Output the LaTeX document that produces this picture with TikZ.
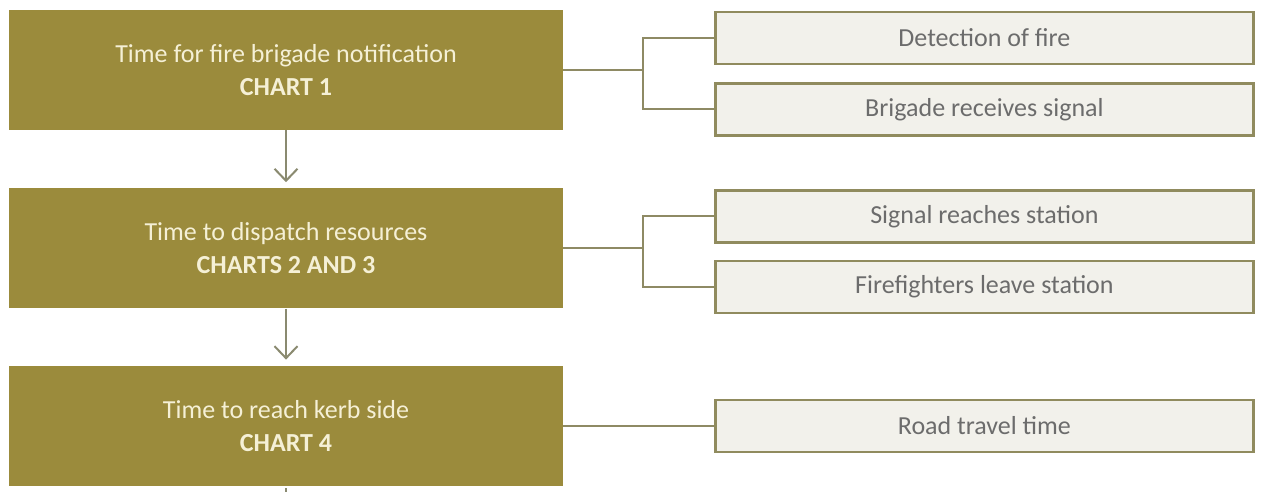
\documentclass[tikz,border=0pt]{standalone}
\usepackage{fontspec}
\setmainfont{Carlito}
\usepackage{tikz}
\usetikzlibrary{positioning,arrows.meta}
\definecolor{stageolive}{RGB}{155,139,60}
\definecolor{stagetext}{RGB}{245,240,214}
\definecolor{partfill}{RGB}{242,241,235}
\definecolor{partedge}{RGB}{144,139,94}
\definecolor{parttext}{RGB}{108,108,108}
\definecolor{linkgray}{RGB}{142,138,100}
\definecolor{arrowgray}{RGB}{138,138,112}
\tikzset{
  stage/.style = {rectangle, fill=stageolive, draw=none, minimum width=554pt, minimum height=120pt, inner sep=0pt, align=center, text=stagetext, font=\fontsize{26}{33}\selectfont},
  part/.style  = {rectangle, fill=partfill, draw=partedge, line width=2.4pt, minimum width=538pt, minimum height=52pt, inner sep=0pt, align=center, text=parttext, font=\fontsize{26}{30}\selectfont},
  flow/.style  = {-{Straight Barb[length=12pt,width=23pt,line width=2pt]}, line width=2pt, draw=arrowgray, shorten >=6pt},
  link/.style  = {line width=2pt, draw=linkgray},
}
\newcommand{\chart}[1]{\textbf{#1}}

\begin{document}
\begin{tikzpicture}[node distance=58pt]
  \useasboundingbox (0,0) rectangle (1265pt,-491pt);
  % stages on the left
  \node[stage] (notify) at (286pt,-70pt) {Time for fire brigade notification\\\chart{CHART 1}};
  \node[stage, below=58pt of notify] (dispatch) {Time to dispatch resources\\\chart{CHARTS 2 AND 3}};
  \node[stage, below=57pt of dispatch] (kerb) {Time to reach kerb side\\\chart{CHART 4}};
  % parts on the right
  \node[part, anchor=north west] (detect) at ([xshift=151pt,yshift=-1pt]notify.north east) {Detection of fire};
  \node[part, below=17pt of detect] (receive) {Brigade receives signal};
  \node[part, anchor=north west] (reach) at ([xshift=151pt,yshift=-1pt]dispatch.north east) {Signal reaches station};
  \node[part, below=16pt of reach] (leave) {Firefighters leave station};
  \node[part, anchor=west] (road) at ([xshift=151pt]kerb.east) {Road travel time};
  % brackets
  \draw[link] (notify.east) -- ++(80pt,0) coordinate (fork1);
  \draw[link] (detect.west) -| (fork1) |- (receive.west);
  \draw[link] (dispatch.east) -- ++(80pt,0) coordinate (fork2);
  \draw[link] (reach.west) -| (fork2) |- (leave.west);
  \draw[link] (kerb.east) -- (road.west);
  % flow down
  \draw[flow] (notify) -- (dispatch);
  \draw[flow] (dispatch) -- (kerb);
  \draw[link, draw=arrowgray] ([yshift=-2pt]kerb.south) -- ++(0,-10pt) coordinate (next);
\end{tikzpicture}
\end{document}
